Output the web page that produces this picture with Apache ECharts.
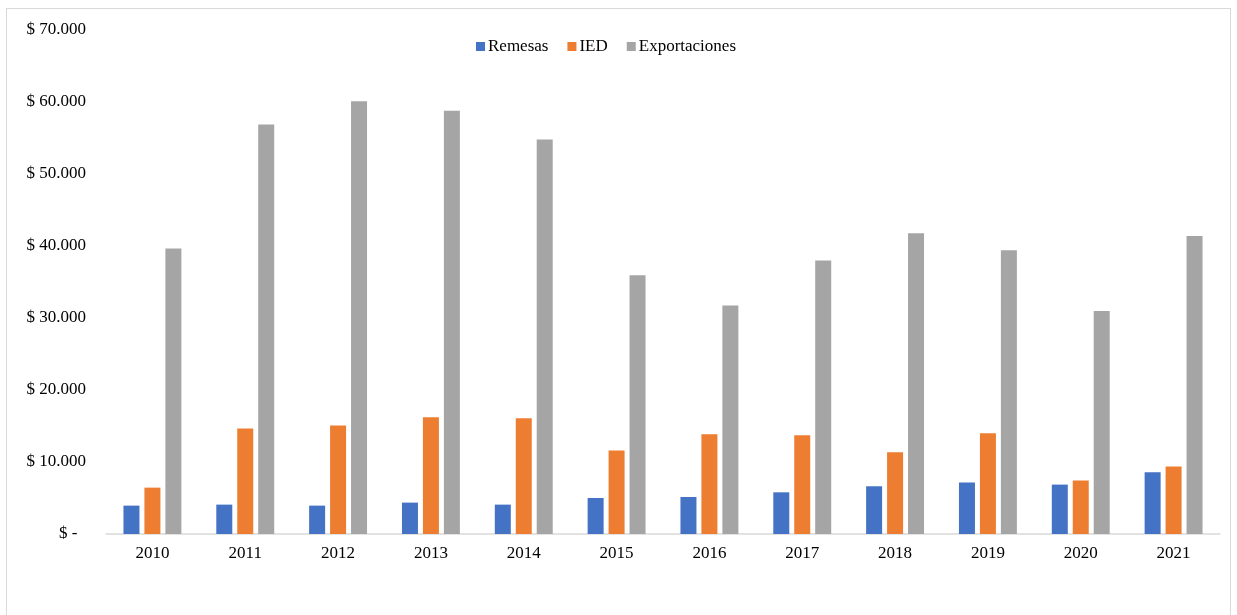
<!DOCTYPE html>
<html>
<head>
<meta charset="utf-8">
<script src="https://cdn.jsdelivr.net/npm/echarts@6/dist/echarts.min.js"></script>
<style>
  html, body { margin: 0; padding: 0; background: #fff; }
  #frame { position: absolute; left: 6px; top: 8px; width: 1225px; height: 640px; border: 1.5px solid #d9d9d9; box-sizing: border-box; }
  #chart { position: absolute; left: 0; top: 0; width: 1237px; height: 615px; }
</style>
</head>
<body>
<div id="frame"></div>
<div id="chart"></div>
<script>
const years = ['2010','2011','2012','2013','2014','2015','2016','2017','2018','2019','2020','2021'];
const remesas = [3940, 4080, 3940, 4360, 4080, 5000, 5140, 5790, 6630, 7140, 6860, 8570];
const ied = [6440, 14640, 15060, 16200, 16070, 11580, 13850, 13710, 11350, 13990, 7420, 9360];
const exportaciones = [39640, 56860, 60100, 58800, 54800, 35930, 31720, 37970, 41760, 39400, 30970, 41390];
const seriesNames = ['Remesas', 'IED', 'Exportaciones'];
const colors = ['#4472C4', '#ED7D31', '#A5A5A5'];

const chart = echarts.init(document.getElementById('chart'));
const font = 'Liberation Serif';
function fmt(v) {
  if (v === 0) return '$ -  ';
  return '$ ' + v.toLocaleString('de-DE');
}
chart.setOption({
  animation: false,
  color: colors,
  textStyle: { fontFamily: font },
  legend: {
    data: seriesNames,
    left: 471, top: 33,
    itemWidth: 9, itemHeight: 9, itemGap: 19,
    icon: 'rect',
    textStyle: { fontFamily: font, fontSize: 17, color: '#000', padding: [0, 0, 0, -2] }
  },
  grid: { left: 106, right: 17, top: 30, bottom: 81, containLabel: false },
  xAxis: {
    type: 'category',
    data: years,
    axisLine: { lineStyle: { color: '#d9d9d9', width: 1.5 } },
    axisTick: { show: false },
    axisLabel: { fontFamily: font, fontSize: 17, color: '#000', margin: 11 }
  },
  yAxis: {
    type: 'value',
    min: 0, max: 70000, interval: 10000,
    axisLine: { show: false },
    axisTick: { show: false },
    splitLine: { show: false },
    axisLabel: { fontFamily: font, fontSize: 17, color: '#000', margin: 20, formatter: fmt }
  },
  series: [
    { name: seriesNames[0], type: 'bar', data: remesas, barWidth: 16, barGap: '31%' },
    { name: seriesNames[1], type: 'bar', data: ied, barWidth: 16, barGap: '31%' },
    { name: seriesNames[2], type: 'bar', data: exportaciones, barWidth: 16, barGap: '31%' }
  ]
});
</script>
</body>
</html>
